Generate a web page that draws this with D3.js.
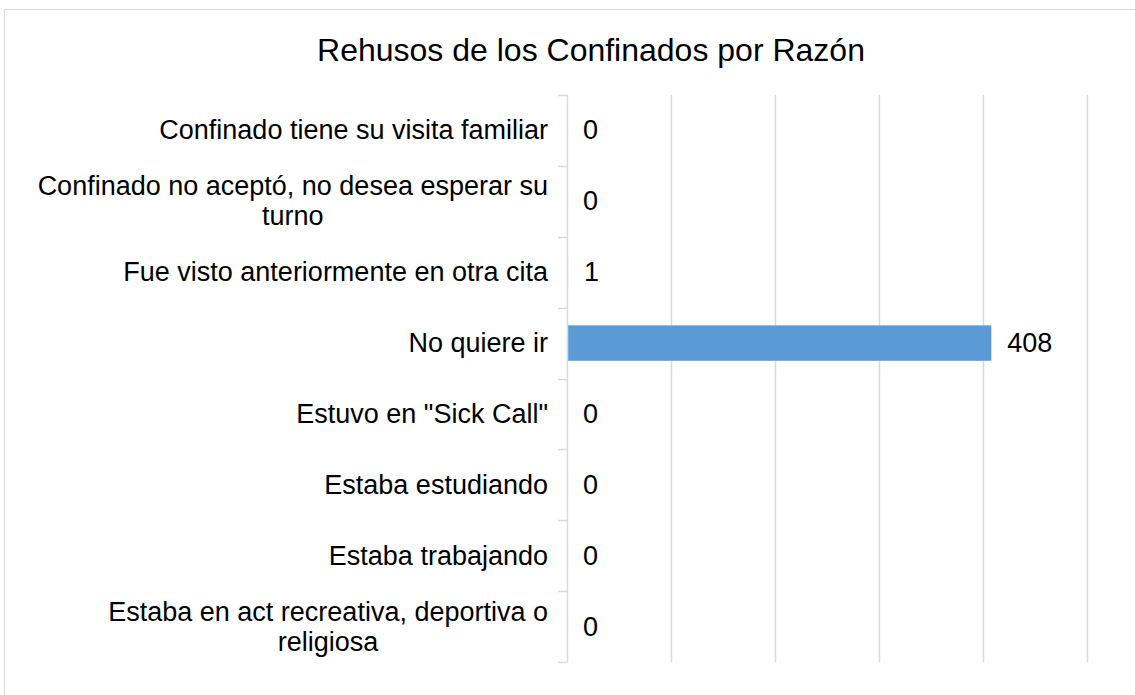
<!DOCTYPE html>
<html>
<head>
<meta charset="utf-8">
<script src="https://cdn.jsdelivr.net/npm/d3@7"></script>
<style>
  html, body { margin: 0; padding: 0; background: #fff; }
  svg { display: block; }
  text { font-family: "Liberation Sans", Arial, sans-serif; fill: #000; }
</style>
</head>
<body>
<svg id="chart" width="1135" height="695"></svg>
<script>
const title = "Rehusos de los Confinados por Razón";
const categories = [
  "Confinado tiene su visita familiar",
  "Confinado no aceptó, no desea esperar su|turno",
  "Fue visto anteriormente en otra cita",
  "No quiere ir",
  "Estuvo en \"Sick Call\"",
  "Estaba estudiando",
  "Estaba trabajando",
  "Estaba en act recreativa, deportiva o|religiosa"
];
const values = [0, 0, 1, 408, 0, 0, 0, 0];
const xTicks = [0, 100, 200, 300, 400, 500];

const svg = d3.select("#chart");
const W = 1135, H = 695;
const plot = { left: 567, right: 1087, top: 95, bottom: 662 };

// chart frame
svg.append("rect").attr("x", 4.5).attr("y", 9.5).attr("width", W + 10).attr("height", H + 10)
  .attr("fill", "#fff").attr("stroke", "#d9d9d9").attr("stroke-width", 1);

svg.append("text").attr("x", 591).attr("y", 50)
  .attr("text-anchor", "middle").attr("dominant-baseline", "central")
  .style("font-size", "32px").text(title);

const x = d3.scaleLinear().domain([0, 500]).range([plot.left, plot.right]);
const y = d3.scaleBand().domain(categories).range([plot.top, plot.bottom])
  .paddingInner(0.5).paddingOuter(0.25);

// gridlines
svg.append("g").selectAll("line").data(xTicks.filter(t => t > 0)).join("line")
  .attr("x1", d => Math.round(x(d)) + 0.5).attr("x2", d => Math.round(x(d)) + 0.5)
  .attr("y1", plot.top).attr("y2", plot.bottom)
  .attr("stroke", "#d9d9d9").attr("stroke-width", 1.5);

// bars
svg.append("g").selectAll("rect").data(categories).join("rect")
  .attr("x", x(0))
  .attr("y", d => y(d))
  .attr("width", (d, i) => x(values[i]) - x(0))
  .attr("height", y.bandwidth())
  .attr("fill", "#5b9bd5");

// y axis line and boundary ticks
const step = y.step();
const bounds = d3.range(categories.length + 1).map(i => plot.top + i * step);
svg.append("line").attr("x1", plot.left + 0.5).attr("x2", plot.left + 0.5)
  .attr("y1", plot.top).attr("y2", plot.bottom)
  .attr("stroke", "#d9d9d9").attr("stroke-width", 1.5);
svg.append("g").selectAll("line").data(bounds).join("line")
  .attr("x1", plot.left - 9).attr("x2", plot.left + 0.5)
  .attr("y1", d => Math.round(d) + 0.5).attr("y2", d => Math.round(d) + 0.5)
  .attr("stroke", "#d9d9d9").attr("stroke-width", 1.5);

// category labels (right-aligned block, lines centered)
const labelRight = 548;
const lineGap = 30;
categories.forEach((c, i) => {
  const lines = c.split("|");
  const cy = y(c) + y.bandwidth() / 2;
  const g = svg.append("g");
  const texts = lines.map((ln, k) => g.append("text")
    .attr("y", cy + (k - (lines.length - 1) / 2) * lineGap)
    .attr("dominant-baseline", "central")
    .style("font-size", "27px").text(ln));
  const widths = texts.map(t => t.node().getComputedTextLength());
  const maxW = d3.max(widths);
  texts.forEach((t, k) => {
    t.attr("text-anchor", "middle").attr("x", labelRight - maxW / 2);
  });
});

// value labels
svg.append("g").selectAll("text").data(categories).join("text")
  .attr("x", (d, i) => x(values[i]) + 16)
  .attr("y", d => y(d) + y.bandwidth() / 2)
  .attr("dominant-baseline", "central")
  .style("font-size", "27px")
  .text((d, i) => values[i]);
</script>
</body>
</html>
